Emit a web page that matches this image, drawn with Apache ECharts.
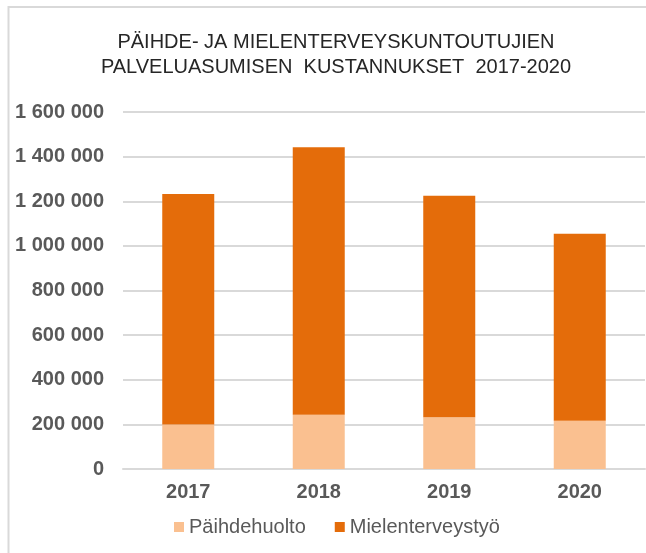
<!DOCTYPE html>
<html style="height: 100%">
<head>
    <meta charset="utf-8">
</head>
<body style="height: 100%; margin: 0; background: #fff">
<div id="container" style="width: 646px; height: 553px"></div>

<script src="https://cdn.jsdelivr.net/npm/echarts@6/dist/echarts.min.js"></script>

<script type="text/javascript">
    // data
    var years = ['2017', '2018', '2019', '2020'];
    var paihdehuolto = [200000, 243000, 232000, 216000];
    var mielenterveystyo = [1033000, 1199000, 993000, 838000];
    var seriesNames = ['Päihdehuolto', 'Mielenterveystyö'];
    var titleLines = ['PÄIHDE- JA MIELENTERVEYSKUNTOUTUJIEN', 'PALVELUASUMISEN  KUSTANNUKSET  2017-2020'];

    var dom = document.getElementById('container');
    var myChart = echarts.init(dom, null, {renderer: 'canvas'});

    function spaced(v) {
        return String(v).replace(/\B(?=(\d{3})+(?!\d))/g, ' ');
    }

    var font = 'Liberation Sans, Arial, sans-serif';
    var option = {
        backgroundColor: '#fff',
        animation: false,
        graphic: [{
            type: 'rect',
            shape: {x: 8.5, y: 7, width: 700, height: 600},
            style: {fill: 'none', stroke: '#D9D9D9', lineWidth: 2}
        }],
        title: {
            text: titleLines.join('\n'),
            left: 331,
            top: 25,
            textAlign: 'center',
            textStyle: {
                fontFamily: font,
                fontSize: 20,
                fontWeight: 'normal',
                color: '#262626',
                lineHeight: 25
            }
        },
        legend: {
            data: seriesNames,
            left: 169,
            top: 512,
            itemWidth: 10,
            itemHeight: 10,
            itemGap: 29,
            icon: 'rect',
            textStyle: {
                fontFamily: font,
                fontSize: 20,
                color: '#595959'
            }
        },
        grid: {
            left: 123,
            right: 1,
            top: 112,
            bottom: 84,
            containLabel: false
        },
        xAxis: {
            type: 'category',
            data: years,
            axisTick: {show: false},
            axisLine: {lineStyle: {color: '#D9D9D9', width: 2}},
            axisLabel: {
                margin: 13,
                fontFamily: font,
                fontSize: 20,
                fontWeight: 'bold',
                color: '#595959'
            }
        },
        yAxis: {
            type: 'value',
            min: 0,
            max: 1600000,
            interval: 200000,
            axisLine: {show: false},
            axisTick: {show: false},
            splitLine: {lineStyle: {color: '#D9D9D9', width: 2}},
            axisLabel: {
                margin: 19,
                fontFamily: font,
                fontSize: 20,
                fontWeight: 'bold',
                color: '#595959',
                formatter: spaced
            }
        },
        series: [
            {
                name: seriesNames[0],
                type: 'bar',
                stack: 'total',
                barWidth: 52,
                itemStyle: {color: '#FAC090'},
                data: paihdehuolto
            },
            {
                name: seriesNames[1],
                type: 'bar',
                stack: 'total',
                barWidth: 52,
                itemStyle: {color: '#E46C0A'},
                data: mielenterveystyo
            }
        ]
    };

    myChart.setOption(option);
</script>
</body>
</html>
